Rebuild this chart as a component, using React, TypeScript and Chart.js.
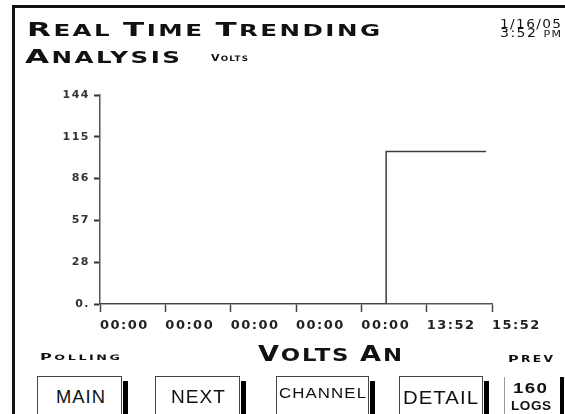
import React, { useEffect, useLayoutEffect, useRef } from 'react';
import { Chart, registerables } from 'chart.js';

Chart.register(...registerables);

// ---- data ----
const timeLabels = ['00:00', '00:00', '00:00', '00:00', '00:00', '13:52', '15:52'];
const voltTickLabels = ['0.', '28', '57', '86', '115', '144'];
const voltMin = 0;
const voltMax = 144;
const sampleIndex = [0, 4.38, 4.38, 5.91];
const voltsAN = [0, 0, 105, 105];

const DV = '"DejaVu Sans", sans-serif';
const LSF = '"Liberation Sans", Arial, sans-serif';

type FitProps = {
  x0: number; x1: number; base: number; size: number;
  family?: string; weight?: number; ls?: number; color?: string;
  children: React.ReactNode;
};

function Fit({ x0, x1, base, size, family = DV, weight = 700, ls = 0, color = '#111', children }: FitProps) {
  const ref = useRef<HTMLSpanElement>(null);
  useLayoutEffect(() => {
    const el = ref.current;
    if (!el) return;
    el.style.transform = 'none';
    const w = el.getBoundingClientRect().width - ls;
    if (w > 0) el.style.transform = `scaleX(${(x1 - x0) / w})`;
  });
  return (
    <span
      ref={ref}
      style={{
        position: 'absolute', left: x0, top: base - 0.846 * size,
        fontFamily: family, fontWeight: weight, fontSize: size, lineHeight: 1,
        letterSpacing: ls, whiteSpace: 'pre', transformOrigin: 'left top', color,
        display: 'block',
      }}
    >
      {children}
    </span>
  );
}

function sc(text: string, small: number) {
  return text.split(' ').map((word, i) => (
    <React.Fragment key={i}>
      {i > 0 && <span style={{ fontSize: small }}>{' '}</span>}
      <span>{word[0]}</span>
      <span style={{ fontSize: small }}>{word.slice(1)}</span>
    </React.Fragment>
  ));
}

const spacingPlugin = {
  id: 'letterSpacingPlugin',
  beforeLayout(chart: any) { (chart.ctx as any).letterSpacing = '1.5px'; },
  beforeDraw(chart: any) { (chart.ctx as any).letterSpacing = '1.5px'; },
};

function Button({ left, right, label }: { left: number; right: number; label?: React.ReactNode }) {
  return (
    <>
      <div style={{ position: 'absolute', left, top: 376, width: right - left, height: 60, border: '1px solid #444', borderBottom: 'none', boxSizing: 'border-box', background: '#fff' }} />
      <div style={{ position: 'absolute', left: right + 1, top: 381, width: 5, height: 40, background: '#000' }} />
      {label}
    </>
  );
}

export default function App() {
  const canvasRef = useRef<HTMLCanvasElement>(null);

  useEffect(() => {
    const canvas = canvasRef.current;
    if (!canvas) return;
    const points = sampleIndex.map((x, i) => ({ x, y: voltsAN[i] }));
    const chart = new Chart(canvas, {
      type: 'line',
      data: {
        datasets: [{
          label: 'Volts AN',
          data: points,
          borderColor: '#3c3c3c',
          borderWidth: 1.5,
          pointRadius: 0,
          tension: 0,
          fill: false,
        }],
      },
      options: {
        animation: false,
        responsive: false,
        devicePixelRatio: 1,
        layout: { padding: { left: 60, right: 73, top: 95, bottom: 70 } },
        plugins: { legend: { display: false }, tooltip: { enabled: false }, title: { display: false } },
        scales: {
          x: {
            type: 'linear', min: 0, max: timeLabels.length - 1,
            ticks: {
              stepSize: 1, autoSkip: false, maxRotation: 0, align: 'start', padding: 6,
              color: '#222', font: { family: DV, size: 13, weight: 'bold' },
              callback: (_v: any, i: number) => timeLabels[i],
            },
            grid: { drawOnChartArea: false, drawTicks: true, tickLength: 8, tickWidth: 1.5, tickColor: '#444' },
            border: { display: true, color: '#555', width: 1.5 },
            afterFit: (s: any) => { s.height = 40; },
          },
          y: {
            min: voltMin, max: voltMax,
            ticks: {
              count: voltTickLabels.length, padding: 4,
              color: '#333', font: { family: DV, size: 11, weight: 'bold' },
              callback: (_v: any, i: number) => voltTickLabels[i],
            },
            grid: { drawOnChartArea: false, drawTicks: true, tickLength: 6, tickWidth: 2, tickColor: '#333' },
            border: { display: true, color: '#555', width: 1.5 },
            afterFit: (s: any) => { s.width = 40; },
          },
        },
      } as any,
      plugins: [spacingPlugin],
    });
    return () => chart.destroy();
  }, []);

  return (
    <div style={{ position: 'fixed', left: 0, top: 0, width: 565, height: 414, background: '#fff', overflow: 'hidden' }}>
      <canvas ref={canvasRef} width={565} height={414} style={{ position: 'absolute', left: 0, top: 0 }} />

      {/* frame */}
      <div style={{ position: 'absolute', left: 12, top: 5, width: 3, height: 420, background: '#111' }} />
      <div style={{ position: 'absolute', left: 12, top: 5, width: 560, height: 3, background: '#111' }} />

      {/* headers */}
      <Fit x0={27} x1={380} base={36} size={19} ls={1.5}>{sc('REAL TIME TRENDING', 15)}</Fit>
      <Fit x0={500} x1={561} base={28} size={12} weight={400} ls={1.2}>1/16/05</Fit>
      <Fit x0={500} x1={561} base={38} size={11.5} weight={400} ls={1.2}>
        <span>3:52 </span><span style={{ fontSize: 9 }}>PM</span>
      </Fit>
      <Fit x0={25} x1={180} base={63} size={19} ls={1.5}>{sc('ANALYSIS', 15)}</Fit>
      <Fit x0={211} x1={248} base={61} size={9.5} ls={1}>{sc('VOLTS', 7.5)}</Fit>

      {/* footer labels */}
      <Fit x0={40} x1={120} base={360} size={9.5} ls={1.5}>{sc('POLLING', 7.5)}</Fit>
      <Fit x0={258} x1={402} base={362} size={22} ls={1.5}>{sc('VOLTS AN', 18.5)}</Fit>
      <Fit x0={508} x1={553} base={362} size={9.5} ls={1.5}>{sc('PREV', 8)}</Fit>

      {/* buttons */}
      <Button left={37} right={122} label={<Fit x0={56} x1={105} base={403} size={18} family={LSF} weight={400} ls={1}>MAIN</Fit>} />
      <Button left={155} right={240} label={<Fit x0={171} x1={225} base={403} size={18} family={LSF} weight={400} ls={1}>NEXT</Fit>} />
      <Button left={276} right={369} label={<Fit x0={279} x1={366} base={398} size={15.5} family={LSF} weight={400} ls={1}>CHANNEL</Fit>} />
      <Button left={399} right={483} label={<Fit x0={403} x1={478} base={404} size={19} family={LSF} weight={400} ls={1}>DETAIL</Fit>} />

      <div style={{ position: 'absolute', left: 504, top: 377, width: 1, height: 40, background: '#999' }} />
      <div style={{ position: 'absolute', left: 560, top: 377, width: 4, height: 40, background: '#000' }} />
      <Fit x0={513} x1={547} base={393} size={14} family={LSF} weight={700} ls={1}>160</Fit>
      <Fit x0={511} x1={551} base={410} size={13} family={LSF} weight={700} ls={0.5}>LOGS</Fit>
    </div>
  );
}
